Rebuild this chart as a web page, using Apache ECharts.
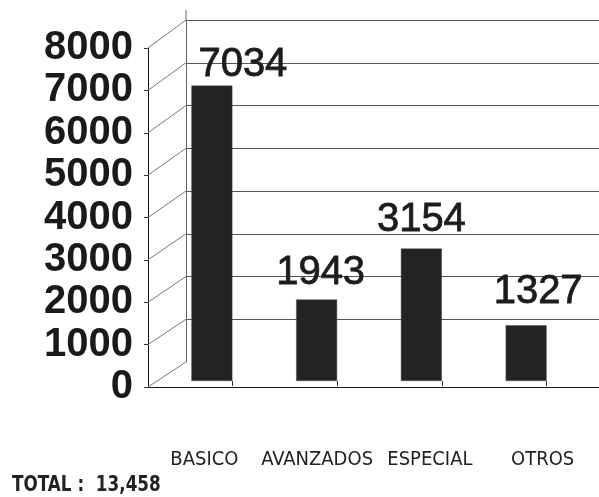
<!DOCTYPE html>
<html><head><meta charset="utf-8">
<script src="https://cdn.jsdelivr.net/npm/echarts@6/dist/echarts.min.js"></script>
<style>html,body{margin:0;padding:0;background:#fff}#c{width:599px;height:497px}</style>
</head><body><div id="c"></div>
<script>
const categories = ['BASICO', 'AVANZADOS', 'ESPECIAL', 'OTROS'];
const values = [7034, 1943, 3154, 1327];
const yTickValues = [0, 1000, 2000, 3000, 4000, 5000, 6000, 7000, 8000];
const totalText = 'TOTAL :  13,458';
const Y_MIN = 0, Y_MAX = 8000, Y_STEP = 1000;

const narrow = '"Liberation Sans Narrow","DejaVu Sans Condensed","Liberation Sans",sans-serif';
const arial = '"Liberation Sans",Arial,sans-serif';

// per-label nudges (styling only) to mimic the hand-placed value labels
const labelNudges = [[31, 5], [4, 0], [0, -3], [12, -7]];

const chart = echarts.init(document.getElementById('c'), null, {renderer: 'canvas'});
const option = {
  animation: false,
  backgroundColor: '#ffffff',
  grid: [
    {left: 186, right: 0, top: 20, height: 342},
    {left: 148, right: 0, top: 48, height: 339},
    {left: 180, right: -13, top: 45, height: 336}
  ],
  xAxis: [
    {gridIndex: 0, type: 'value', min: 0, max: 1, show: false},
    {gridIndex: 1, type: 'category', data: categories,
      axisLine: {show: true, lineStyle: {color: '#1a1a1a', width: 1}},
      axisTick: {show: false},
      axisLabel: {interval: 0, margin: 63, fontFamily: narrow, fontSize: 20, color: '#222'}},
    {gridIndex: 2, type: 'category', data: categories, offset: 6,
      axisLine: {show: false},
      axisTick: {show: true, alignWithLabel: true, length: 5, lineStyle: {color: '#333'}},
      axisLabel: {show: false}}
  ],
  yAxis: [
    {gridIndex: 0, type: 'value', min: Y_MIN, max: Y_MAX, interval: Y_STEP,
      axisLine: {show: true, lineStyle: {color: '#666'}},
      axisTick: {show: false}, axisLabel: {show: false},
      splitLine: {show: true, showMinLine: false, lineStyle: {color: '#555', width: 1}}},
    {gridIndex: 1, type: 'value', min: Y_MIN, max: Y_MAX, interval: Y_STEP,
      axisLine: {show: true, lineStyle: {color: '#111', width: 1}},
      axisTick: {show: true, length: 4, lineStyle: {color: '#333'}},
      axisLabel: {fontWeight: 'bold', fontSize: 40, fontFamily: arial, color: '#1a1a1a', margin: 15,
        formatter: v => String(v)},
      splitLine: {show: false}},
    {gridIndex: 2, type: 'value', min: Y_MIN, max: Y_MAX, interval: Y_STEP, show: false, splitLine: {show: false}}
  ],
  series: [
    {type: 'bar', xAxisIndex: 2, yAxisIndex: 2,
      data: values.map((v, i) => ({value: v, label: {offset: labelNudges[i]}})),
      barWidth: 41, barGap: '0%',
      itemStyle: {color: '#232326', borderColor: '#555', borderWidth: 0.5},
      label: {show: true, position: 'top', distance: 6, fontSize: 40, fontFamily: arial, color: '#1c1c1c',
        textBorderColor: '#1c1c1c', textBorderWidth: 0.8}},
    {type: 'bar', xAxisIndex: 2, yAxisIndex: 2, data: [], barWidth: 41}
  ]
};
chart.setOption(option);

// diagonal connectors from front axis ticks to back wall, via the library's scales
const frontRect = chart.getModel().getComponent('grid', 1).coordinateSystem.getRect();
const backRect = chart.getModel().getComponent('grid', 0).coordinateSystem.getRect();
const g = yTickValues.map(v => {
  const fy = chart.convertToPixel({yAxisIndex: 1}, v);
  const b = chart.convertToPixel({gridIndex: 0}, [0, v]);
  return {type: 'line', silent: true, z: 1,
    shape: {x1: frontRect.x, y1: fy, x2: b[0], y2: b[1]},
    style: {stroke: '#777', lineWidth: 1}};
});
// back wall edge rises a little above the top gridline
g.push({type: 'line', silent: true, z: 1,
  shape: {x1: backRect.x, y1: backRect.y - 10, x2: backRect.x, y2: backRect.y},
  style: {stroke: '#666', lineWidth: 1}});
g.push({type: 'text', x: 12, y: 474, scaleX: 0.85,
  style: {text: totalText, font: 'bold 22px ' + narrow, fill: '#222'}});
chart.setOption({graphic: g});
</script></body></html>
